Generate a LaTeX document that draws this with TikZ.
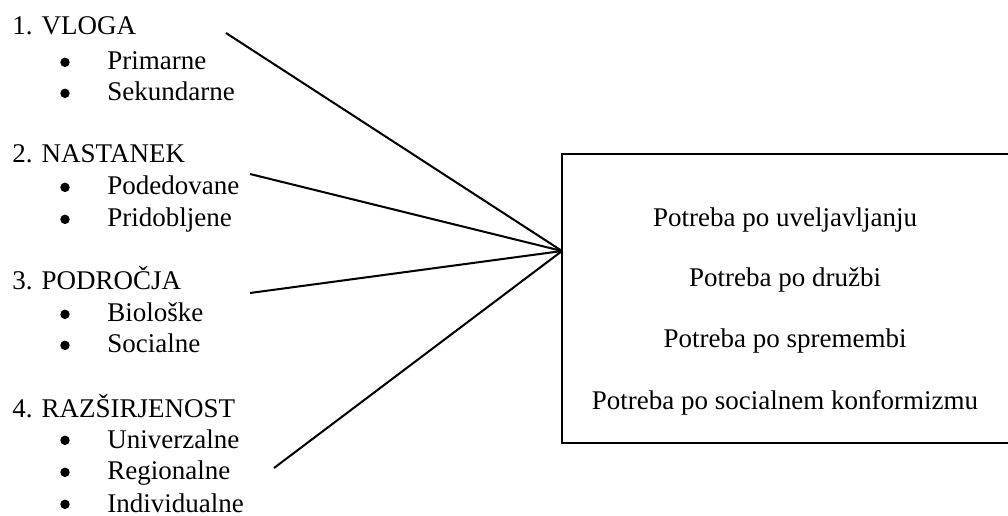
\documentclass[tikz,border=0pt]{standalone}
\usepackage{fontspec}
\setmainfont{Liberation Serif}
\usetikzlibrary{positioning}

\tikzset{
	every node/.style={font=\fontsize{12}{14}\selectfont},
	head/.style={anchor=base west, inner sep=0pt},
	dot/.style={circle, fill, inner sep=0pt, minimum size=4.2pt, yshift=3.4pt},
	entry/.style={anchor=base west, inner sep=0pt},
	need/.style={anchor=base, inner sep=0pt},
	link/.style={line width=0.9pt},
}

\begin{document}
\begin{tikzpicture}[x=0.4444pt, y=-0.4444pt]
	%%%%% START %%%%%
	
	\clip (0, 0) rectangle (1008, 516);
	
	% 1. vloga
	\node[head] (vloga) at (12, 35) {1. VLOGA};
	\node[dot] (d11) at (65, 70) {};
	\node[entry] (primarne) at (107, 70) {Primarne};
	\node[dot] (d12) at (65, 101) {};
	\node[entry] (sekundarne) at (107, 101) {Sekundarne};
	
	% 2. nastanek
	\node[head] (nastanek) at (12, 163) {2. NASTANEK};
	\node[dot] (d21) at (65, 195) {};
	\node[entry] (podedovane) at (107, 195) {Podedovane};
	\node[dot] (d22) at (65, 227) {};
	\node[entry] (pridobljene) at (107, 227) {Pridobljene};
	
	% 3. podrocja
	\node[head] (podrocja) at (12, 290) {3. PODROČJA};
	\node[dot] (d31) at (65, 322) {};
	\node[entry] (bioloske) at (107, 322) {Biološke};
	\node[dot] (d32) at (65, 353) {};
	\node[entry] (socialne) at (107, 353) {Socialne};
	
	% 4. razsirjenost
	\node[head] (razsirjenost) at (12, 417) {4. RAZŠIRJENOST};
	\node[dot] (d41) at (65, 448) {};
	\node[entry] (univerzalne) at (107, 448) {Univerzalne};
	\node[dot] (d42) at (65, 480) {};
	\node[entry] (regionalne) at (107, 480) {Regionalne};
	\node[dot] (d43) at (65, 512) {};
	\node[entry] (individualne) at (107, 512) {Individualne};
	
	% box with needs
	\node[draw, link, minimum width=200pt, minimum height=128.4pt, inner sep=0pt] (box) at (787, 298.5) {};
	\node[need] (uveljavljanje) at (785, 227) {Potreba po uveljavljanju};
	\node[need] (druzba) at (785, 287) {Potreba po družbi};
	\node[need] (sprememba) at (785, 348) {Potreba po spremembi};
	\node[need] (konformizem) at (785, 410) {Potreba po socialnem konformizmu};
	
	% lines
	\coordinate (hub) at (562, 251);
	\coordinate (s1) at (226, 33);
	\coordinate (s2) at (250, 174);
	\coordinate (s3) at (250, 293);
	\coordinate (s4) at (274, 468);
	\draw[link] (s1) -- (hub);
	\draw[link] (s2) -- (hub);
	\draw[link] (s3) -- (hub);
	\draw[link] (s4) -- (hub);
	
	%%%%% END %%%%%
\end{tikzpicture}
\end{document}
